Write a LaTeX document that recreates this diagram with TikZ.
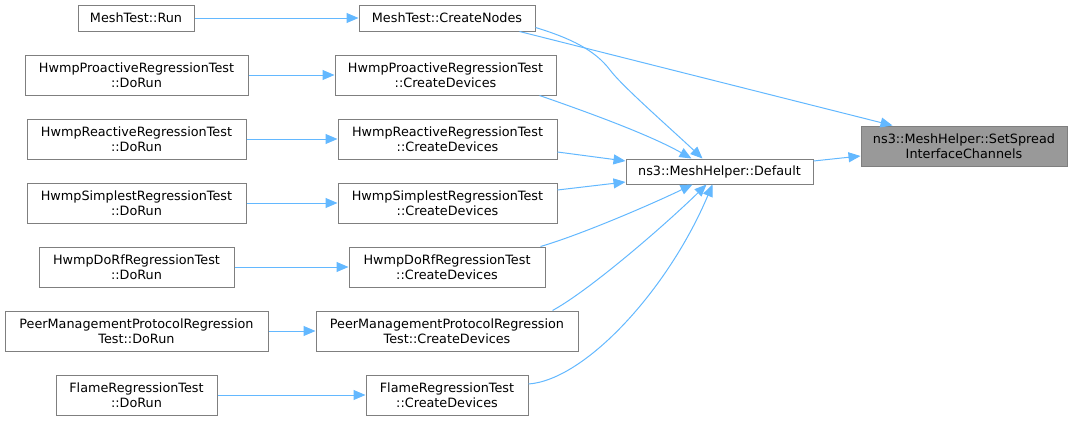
\documentclass[tikz,border=0pt]{standalone}
\usepackage{fontspec}
\setmainfont{DejaVu Sans}
\usetikzlibrary{arrows.meta,calc}
\definecolor{edgeblue}{HTML}{63B8FF}
\definecolor{boxline}{HTML}{7F7F7F}
\definecolor{hlfill}{HTML}{999999}
\begin{document}
\begin{tikzpicture}[x=0.75pt,y=-0.75pt,
  box/.style={draw=boxline,line width=0.75pt,fill=white,inner sep=0pt,align=center,
    font=\fontsize{9.6pt}{11.25pt}\selectfont,minimum height=30pt},
  onebox/.style={box,minimum height=19.5pt},
  hlbox/.style={box,fill=hlfill},
  link/.style={draw=edgeblue,line width=0.75pt,-{Triangle[length=9pt,width=7.5pt]}}]
\useasboundingbox (0,0) rectangle (1072,421);
% nodes
\node[onebox,minimum width=87pt] (run) at (136,18) {MeshTest::Run};
\node[onebox,minimum width=132pt] (cn) at (447,18) {MeshTest::CreateNodes};
\node[box,minimum width=167.25pt] (pd) at (136.5,75) {HwmpProactiveRegressionTest\\::DoRun};
\node[box,minimum width=165.75pt] (pc) at (445.5,75) {HwmpProactiveRegressionTest\\::CreateDevices};
\node[box,minimum width=164.25pt] (rd) at (136.5,139) {HwmpReactiveRegressionTest\\::DoRun};
\node[box,minimum width=164.25pt] (rc) at (447.5,139) {HwmpReactiveRegressionTest\\::CreateDevices};
\node[box,minimum width=164.25pt] (sd) at (136.5,203) {HwmpSimplestRegressionTest\\::DoRun};
\node[box,minimum width=164.25pt] (sc) at (447.5,203) {HwmpSimplestRegressionTest\\::CreateDevices};
\node[box,minimum width=146.25pt] (dd) at (136.5,267) {HwmpDoRfRegressionTest\\::DoRun};
\node[box,minimum width=147pt] (dc) at (447,267) {HwmpDoRfRegressionTest\\::CreateDevices};
\node[box,minimum width=197.25pt] (md) at (136.5,331) {PeerManagementProtocolRegression\\Test::DoRun};
\node[box,minimum width=196.5pt] (mc) at (447,331) {PeerManagementProtocolRegression\\Test::CreateDevices};
\node[box,minimum width=120.75pt] (fd) at (136.5,395) {FlameRegressionTest\\::DoRun};
\node[box,minimum width=121.5pt] (fc) at (447,395) {FlameRegressionTest\\::CreateDevices};
\node[onebox,minimum width=140.25pt,minimum height=18.75pt] (def) at (719.5,171.5) {ns3::MeshHelper::Default};
\node[hlbox,minimum width=154.5pt] (ss) at (964,146) {ns3::MeshHelper::SetSpread\\InterfaceChannels};
% connectors
\draw[link] (run.east) -- (cn.west);
\draw[link] (pd.east) -- (pc.west);
\draw[link] (rd.east) -- (rc.west);
\draw[link] (sd.east) -- (sc.west);
\draw[link] (dd.east) -- (dc.west);
\draw[link] (md.east) -- (mc.west);
\draw[link] (fd.east) -- (fc.west);
\draw[link] ($(cn.south west)+(161,0)$) -- ($(ss.north west)+(32,0)$);
\draw[link] ($(cn.south east)+(0,-4)$) .. controls (570,38) and (595,50) .. (610,70)
  .. controls (622,86) and (670,128) .. ($(def.north west)+(77,0)$);
\draw[link] ($(pc.south west)+(205,0)$) .. controls (590,113) and (650,135) .. ($(def.north west)+(66,0)$);
\draw[link] ($(rc.east)+(0,13)$) -- ($(def.west)+(0,-10.5)$);
\draw[link] ($(sc.east)+(0,-13)$) -- ($(def.west)+(0,10.5)$);
\draw[link] ($(dc.north east)+(-5,0)$) .. controls (580,235) and (650,205) .. ($(def.south west)+(67,0)$);
\draw[link] ($(mc.north east)+(-26,0)$) .. controls (590,290) and (665,225) .. ($(def.south west)+(81,0)$);
\draw[link] ($(fc.east)+(0,-11)$) .. controls (585,380) and (668,290) .. ($(def.south west)+(87,0)$);
\draw[link] ($(def.east)+(0,-10.5)$) -- ($(ss.west)+(0,10)$);
\end{tikzpicture}
\end{document}
